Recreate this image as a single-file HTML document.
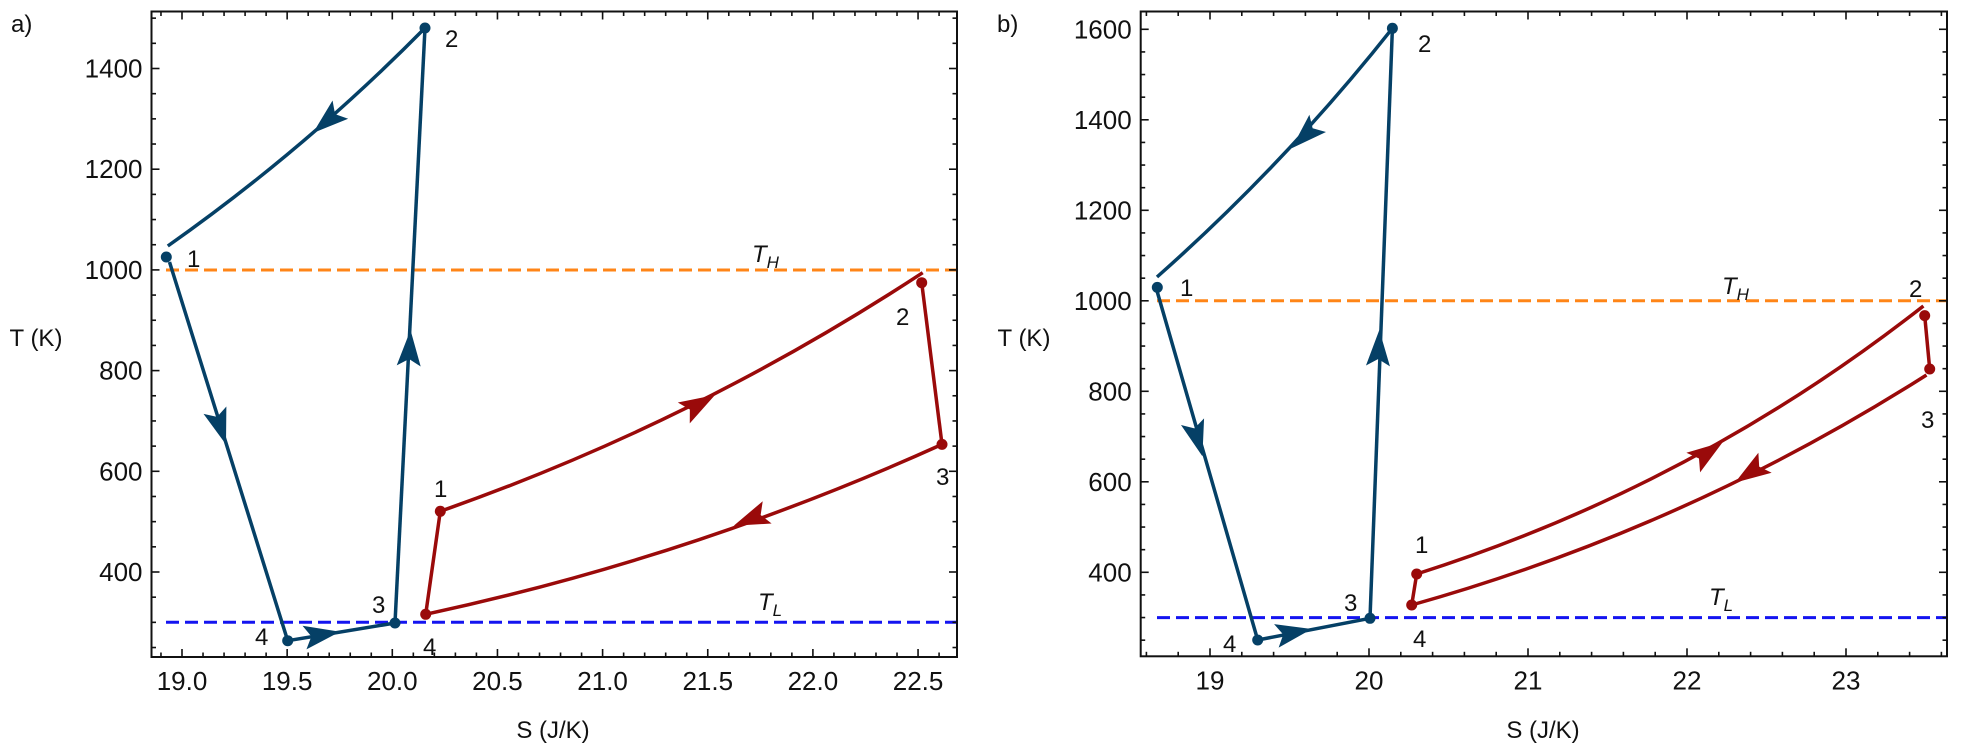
<!DOCTYPE html>
<html><head><meta charset="utf-8"><style>
html,body{margin:0;padding:0;background:#fff;}
svg{display:block;}
text{font-family:"Liberation Sans",Arial,sans-serif;fill:#111;}
</style></head><body>
<svg id="s" width="1966" height="749" viewBox="0 0 1966 749" xmlns="http://www.w3.org/2000/svg">
<g id="a">
<line x1="166" y1="270" x2="957" y2="270" stroke="#ff8517" stroke-width="3" stroke-dasharray="13,6"/>
<line x1="166" y1="622.3" x2="957" y2="622.3" stroke="#1414f0" stroke-width="3" stroke-dasharray="13,6"/>
<g fill="none" stroke="#054066" stroke-width="3.5" stroke-linejoin="round">
<path d="M167.8,246 Q305.6,149 425,28"/>
<path d="M425,28 L395,623"/>
<path d="M169.5,262 L287.7,640.7 L395,623"/>
</g>
<g fill="none" stroke="#9a0a0a" stroke-width="3.5" stroke-linejoin="round">
<path d="M440.3,511.3 Q695,422 922.7,272.7"/>
<path d="M921.7,282.7 L942,444.4"/>
<path d="M942,444.4 Q693,557 425.7,614.3 L440.3,511.3"/>
</g>
<g fill="#054066"><circle cx="166.3" cy="257" r="5.5"/><circle cx="425" cy="28" r="5.5"/><circle cx="395" cy="623" r="5.5"/><circle cx="287.7" cy="640.7" r="5.5"/></g>
<g fill="#9a0a0a"><circle cx="440.3" cy="511.3" r="5.5"/><circle cx="921.7" cy="282.7" r="5.5"/><circle cx="942" cy="444.4" r="5.5"/><circle cx="425.7" cy="614.3" r="5.5"/></g>
<g font-size="24">
<text x="187" y="267">1</text><text x="445" y="47">2</text><text x="372" y="613">3</text><text x="255" y="645">4</text>
<text x="434" y="497">1</text><text x="896" y="325">2</text><text x="936" y="485">3</text><text x="423" y="655">4</text>
</g>
<text x="752" y="262" font-size="24" font-style="italic">T<tspan font-size="17" dy="6">H</tspan></text>
<text x="758" y="610" font-size="24" font-style="italic">T<tspan font-size="17" dy="6">L</tspan></text>
<text x="11" y="32" font-size="24">a)</text>
<text x="36" y="346" font-size="24" text-anchor="middle">T (K)</text>
<text x="553" y="738" font-size="24" text-anchor="middle">S (J/K)</text>
</g>
<g id="b">
<line x1="1157" y1="300.8" x2="1947" y2="300.8" stroke="#ff8517" stroke-width="3" stroke-dasharray="13,6"/>
<line x1="1157" y1="617.6" x2="1947" y2="617.6" stroke="#1414f0" stroke-width="3" stroke-dasharray="13,6"/>
<g fill="none" stroke="#054066" stroke-width="3.5" stroke-linejoin="round">
<path d="M1157,277 Q1285.8,163 1392.4,28.3"/>
<path d="M1392.4,28.3 L1370,618.3"/>
<path d="M1157.3,292 L1257.7,640 L1370,618.3"/>
</g>
<g fill="none" stroke="#9a0a0a" stroke-width="3.5" stroke-linejoin="round">
<path d="M1416.7,574 Q1694,486 1923.4,306"/>
<path d="M1924.7,315.6 L1929.7,369"/>
<path d="M1926.5,375 Q1686,528 1411.7,605 L1416.7,574"/>
</g>
<g fill="#054066"><circle cx="1157.3" cy="287.4" r="5.5"/><circle cx="1392.4" cy="28.3" r="5.5"/><circle cx="1370" cy="618.3" r="5.5"/><circle cx="1257.7" cy="640" r="5.5"/></g>
<g fill="#9a0a0a"><circle cx="1416.7" cy="574" r="5.5"/><circle cx="1924.7" cy="315.6" r="5.5"/><circle cx="1929.7" cy="369" r="5.5"/><circle cx="1411.7" cy="605" r="5.5"/></g>
<g font-size="24">
<text x="1180" y="296">1</text><text x="1418" y="52">2</text><text x="1344" y="611">3</text><text x="1223" y="652">4</text>
<text x="1415" y="553">1</text><text x="1909" y="297">2</text><text x="1921" y="428">3</text><text x="1413" y="647">4</text>
</g>
<text x="1722" y="294" font-size="24" font-style="italic">T<tspan font-size="17" dy="6">H</tspan></text>
<text x="1709" y="605" font-size="24" font-style="italic">T<tspan font-size="17" dy="6">L</tspan></text>
<text x="997" y="32" font-size="24">b)</text>
<text x="1024" y="346" font-size="24" text-anchor="middle">T (K)</text>
<text x="1543" y="738" font-size="24" text-anchor="middle">S (J/K)</text>
</g>
<g id="axes"></g>
</svg>
<script>
(function(){
var NS="http://www.w3.org/2000/svg",ax=document.getElementById("axes");
function el(n,a,p){var e=document.createElementNS(NS,n);for(var k in a)e.setAttribute(k,a[k]);(p||ax).appendChild(e);return e;}
function arrow(tx,ty,dx,dy,col){var L=Math.hypot(dx,dy);dx/=L;dy/=L;var px=-dy,py=dx,len=36,w=12,n=7;
var bx=tx-dx*len,by=ty-dy*len;var nx=tx-dx*(len-n),ny=ty-dy*(len-n);
el("polygon",{points:[tx,ty,bx+px*w,by+py*w,nx,ny,bx-px*w,by-py*w].join(","),fill:col});}
var B="#054066",R="#9a0a0a";
arrow(313,133,-0.76,0.65,B);arrow(410.5,330,0.05,-1,B);arrow(226,444.5,0.307,0.952,B);arrow(340,631.7,0.987,-0.163,B);
arrow(715,395,0.87,-0.5,R);arrow(733.7,525.7,-0.93,0.37,R);
arrow(1291.7,148.3,-0.72,0.69,B);arrow(1379.3,330,0.037,-1,B);arrow(1202.4,456.3,0.274,0.962,B);arrow(1311.7,629,0.98,-0.19,B);
arrow(1722.8,442,0.82,-0.57,R);arrow(1735,482.6,-0.83,0.55,R);
function panel(L,Rt,T,Bt,xs,ys){
el("rect",{x:L,y:T,width:Rt-L,height:Bt-T,fill:"none",stroke:"#111","stroke-width":2});
for(var v=xs.min;v<=xs.max+1e-9;v+=xs.minor){var x=xs.p0+(v-xs.v0)*xs.s;if(x<L+1||x>Rt-1)continue;
var maj=Math.abs(v/xs.major-Math.round(v/xs.major))<1e-6;var l=maj?8:4.5;
el("line",{x1:x,y1:Bt,x2:x,y2:Bt-l,stroke:"#111","stroke-width":1.6});el("line",{x1:x,y1:T,x2:x,y2:T+l,stroke:"#111","stroke-width":1.6});
if(maj){var t=el("text",{x:x,y:Bt+33,"font-size":26,"text-anchor":"middle"});t.textContent=xs.fmt(v);}}
for(var v=ys.min;v<=ys.max+1e-9;v+=ys.minor){var y=ys.p0-(v-ys.v0)*ys.s;if(y<T+1||y>Bt-1)continue;
var maj=Math.abs(v/ys.major-Math.round(v/ys.major))<1e-6;var l=maj?8:4.5;
el("line",{x1:L,y1:y,x2:L+l,y2:y,stroke:"#111","stroke-width":1.6});el("line",{x1:Rt,y1:y,x2:Rt-l,y2:y,stroke:"#111","stroke-width":1.6});
if(maj){var t=el("text",{x:L-9,y:y+9,"font-size":26,"text-anchor":"end"});t.textContent=String(v);}}
}
panel(151.5,957,11.5,657,{min:18.8,max:22.7,minor:0.1,major:0.5,v0:19,p0:182,s:210.3,fmt:function(v){return v.toFixed(1);}},
{min:200,max:1550,minor:50,major:200,v0:400,p0:572,s:0.5035});
panel(1140.7,1947,11.5,656.3,{min:18.6,max:23.6,minor:0.2,major:1,v0:19,p0:1210,s:159,fmt:function(v){return String(Math.round(v));}},
{min:200,max:1650,minor:50,major:200,v0:400,p0:572.3,s:0.4525});
})();
</script>
</body></html>
